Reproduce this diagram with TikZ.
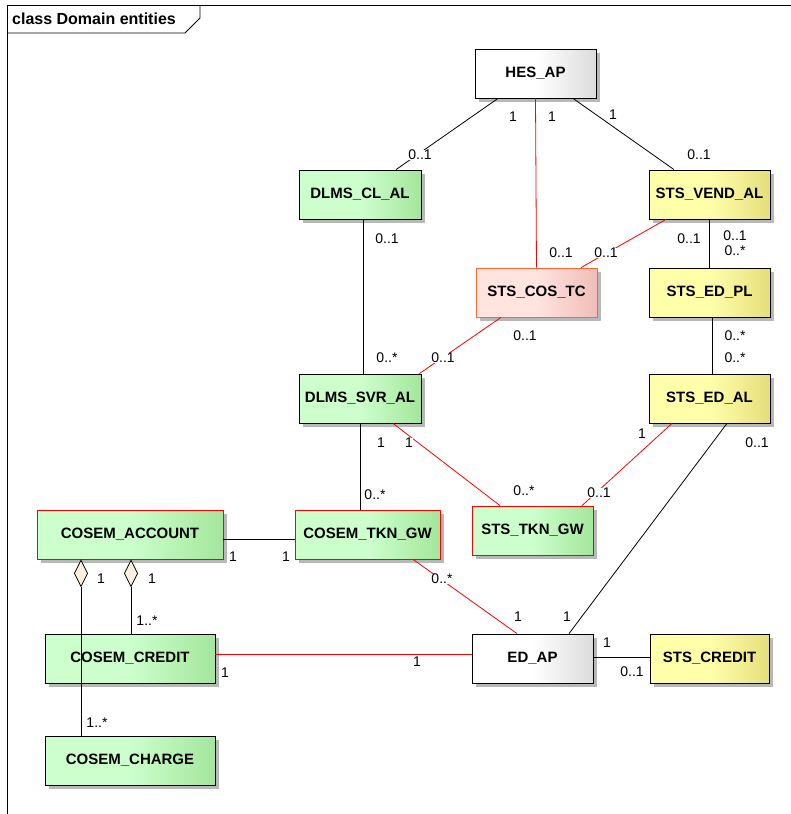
\documentclass[tikz,border=0pt]{standalone}
\usepackage{fontspec}
\setmainfont{Liberation Sans}
\usetikzlibrary{backgrounds, arrows.meta, positioning}
\definecolor{greenL}{HTML}{CCFFCC}
\definecolor{greenR}{HTML}{A4E69C}
\definecolor{yellowL}{HTML}{FFFFAA}
\definecolor{yellowR}{HTML}{E6DE7C}
\definecolor{whiteR}{HTML}{DCDCDC}
\definecolor{pinkL}{HTML}{FFE4E0}
\definecolor{pinkR}{HTML}{EFBDB8}
\definecolor{pinkD}{HTML}{FF6633}
\definecolor{aggfill}{HTML}{FCF0DE}
\definecolor{shadowgray}{HTML}{B8B8B8}
\tikzset{
	entity/.style={
		rectangle,
		minimum height=49pt,
		inner sep=0pt,
		text centered,
		draw=black,
		line width=0.8pt,
		font=\fontsize{15}{17}\selectfont\bfseries
	},
	greenbox/.style={entity, left color=greenL, right color=greenR, middle color=greenL},
	yellowbox/.style={entity, left color=yellowL, right color=yellowR, middle color=yellowL},
	whitebox/.style={entity, left color=white, right color=whiteR, middle color=white},
	pinkbox/.style={entity, left color=pinkL, right color=pinkR, middle color=pinkL, draw=pinkD},
	redframe/.style={draw=red},
	boxshadow/.style={fill=shadowgray},
	link/.style={draw=black, line width=0.8pt},
	redlink/.style={draw=red, line width=0.8pt},
	agg/.style={link, -{Diamond[length=28pt, width=14pt, fill=aggfill]}},
	mult/.style={font=\fontsize{14}{16}\selectfont, fill=white, inner sep=0.5pt}
}

\begin{document}
\begin{tikzpicture}[x=1pt, y=-1pt]
	\useasboundingbox (0,0) rectangle (791,814);
	\draw [link] (7,814) -- (7,5) -- (791,5);
	\draw [link] (7,33) -- (185,33) -- (200,18) -- (200,5);
	\node (title) [anchor=west, font=\fontsize{16}{18}\selectfont\bfseries, inner sep=0pt] at (12,19) {class Domain entities};

	\node (hes) [whitebox, minimum width=121pt] at (535.5,73.5) {HES\_AP};
	\node (dlmscl) [greenbox, minimum width=122pt] at (360,194.5) {DLMS\_CL\_AL};
	\node (stsvend) [yellowbox, minimum width=121pt] at (709.5,194.5) {STS\_VEND\_AL};
	\node (stscos) [pinkbox, minimum width=121pt] at (536.5,292.5) {STS\_COS\_TC};
	\node (stsedpl) [yellowbox, minimum width=121pt] at (709.5,292.5) {STS\_ED\_PL};
	\node (dlmssvr) [greenbox, minimum width=122pt] at (360,398.5) {DLMS\_SVR\_AL};
	\node (stsedal) [yellowbox, minimum width=121pt] at (709.5,398.5) {STS\_ED\_AL};
	\node (cosemacc) [greenbox, redframe, minimum width=186pt] at (130,534.5) {COSEM\_ACCOUNT};
	\node (cosemtkn) [greenbox, redframe, minimum width=145pt] at (367.5,534.5) {COSEM\_TKN\_GW};
	\node (ststkn) [greenbox, redframe, minimum width=121pt] at (532.5,530.5) {STS\_TKN\_GW};
	\node (cosemcred) [greenbox, minimum width=170pt] at (130,658.5) {COSEM\_CREDIT};
	\node (edap) [whitebox, minimum width=121pt] at (532.5,658.5) {ED\_AP};
	\node (stscred) [yellowbox, minimum width=119pt] at (709.5,658.5) {STS\_CREDIT};
	\node (cosemchg) [greenbox, minimum width=170pt] at (130,760.5) {COSEM\_CHARGE};

	\begin{scope}[on background layer]
		\foreach \n in {hes, dlmscl, stsvend, stscos, stsedpl, dlmssvr, stsedal,
			cosemacc, cosemtkn, ststkn, cosemcred, edap, stscred, cosemchg}
			\fill [boxshadow] ([shift={(4pt,-4pt)}]\n.south west) rectangle ([shift={(4pt,-4pt)}]\n.north east);
	\end{scope}

	\draw [link] ([xshift=-37.5pt]hes.south) -- ([xshift=36pt]dlmscl.north);
	\draw [redlink] (hes.south) -- (stscos.north);
	\draw [link] ([xshift=37.5pt]hes.south) -- ([xshift=-35.5pt]stsvend.north);
	\draw [redlink] ([xshift=-43.5pt]stsvend.south) -- ([xshift=44.5pt]stscos.north);
	\draw [link] (stsvend.south) -- (stsedpl.north);
	\draw [link] ([xshift=3pt]dlmscl.south) -- ([xshift=3pt]dlmssvr.north);
	\draw [redlink] ([xshift=-35.5pt]stscos.south) -- ([xshift=-2pt]dlmssvr.north east);
	\draw [link] ([xshift=2.5pt]stsedpl.south) -- ([xshift=2.5pt]stsedal.north);
	\draw [link] (dlmssvr.south) -- (dlmssvr.south |- cosemtkn.north);
	\draw [redlink] ([xshift=33pt]dlmssvr.south) -- ([xshift=-32.5pt]ststkn.north);
	\draw [redlink] ([xshift=-37.5pt]stsedal.south) -- ([xshift=49.5pt]ststkn.north);
	\draw [link] ([xshift=17.5pt]stsedal.south) -- ([xshift=36.5pt]edap.north);
	\draw [redlink] ([xshift=45.5pt]cosemtkn.south) -- ([xshift=-15.5pt]edap.north);
	\draw [link] ([yshift=-4.5pt]cosemacc.east) -- ([yshift=-4.5pt]cosemtkn.west);
	\draw [redlink] ([yshift=4.5pt]cosemcred.east) -- ([yshift=4.5pt]edap.west);
	\draw [link] ([yshift=1.5pt]edap.east) -- ([yshift=1.5pt]stscred.west);
	\draw [agg] ([xshift=1pt]cosemcred.north) -- ([xshift=1pt]cosemacc.south);
	\draw [agg] ([xshift=-49pt]cosemchg.north) -- ([xshift=-49pt]cosemacc.south);

	\foreach \x/\y/\t [count=\i] in {
		513/117/1, 552/117/1, 613/115/1, 420/155/0..1, 699/155/0..1,
		387/239/0..1, 561/253/0..1, 606/253/0..1, 689/239/0..1,
		735/236/0..1, 735/251/0..*, 525/336/0..1, 387/358/0..*, 443/358/0..1,
		735/336/0..*, 735/358/0..*, 381/443/1, 409/443/1, 375/495/0..*,
		524/491/0..*, 642/434/1, 599/493/0..1, 757/443/0..1,
		233/557/1, 286/557/1, 101/579/1, 152/579/1, 147/621/1..*,
		225/673/1, 417/662/1, 97/723/1..*, 442/579/0..*,
		518/617/1, 567/617/1, 607/643/1, 632/672/0..1}
		\node (m\i) [mult] at (\x,\y) {\t};
\end{tikzpicture}
\end{document}
